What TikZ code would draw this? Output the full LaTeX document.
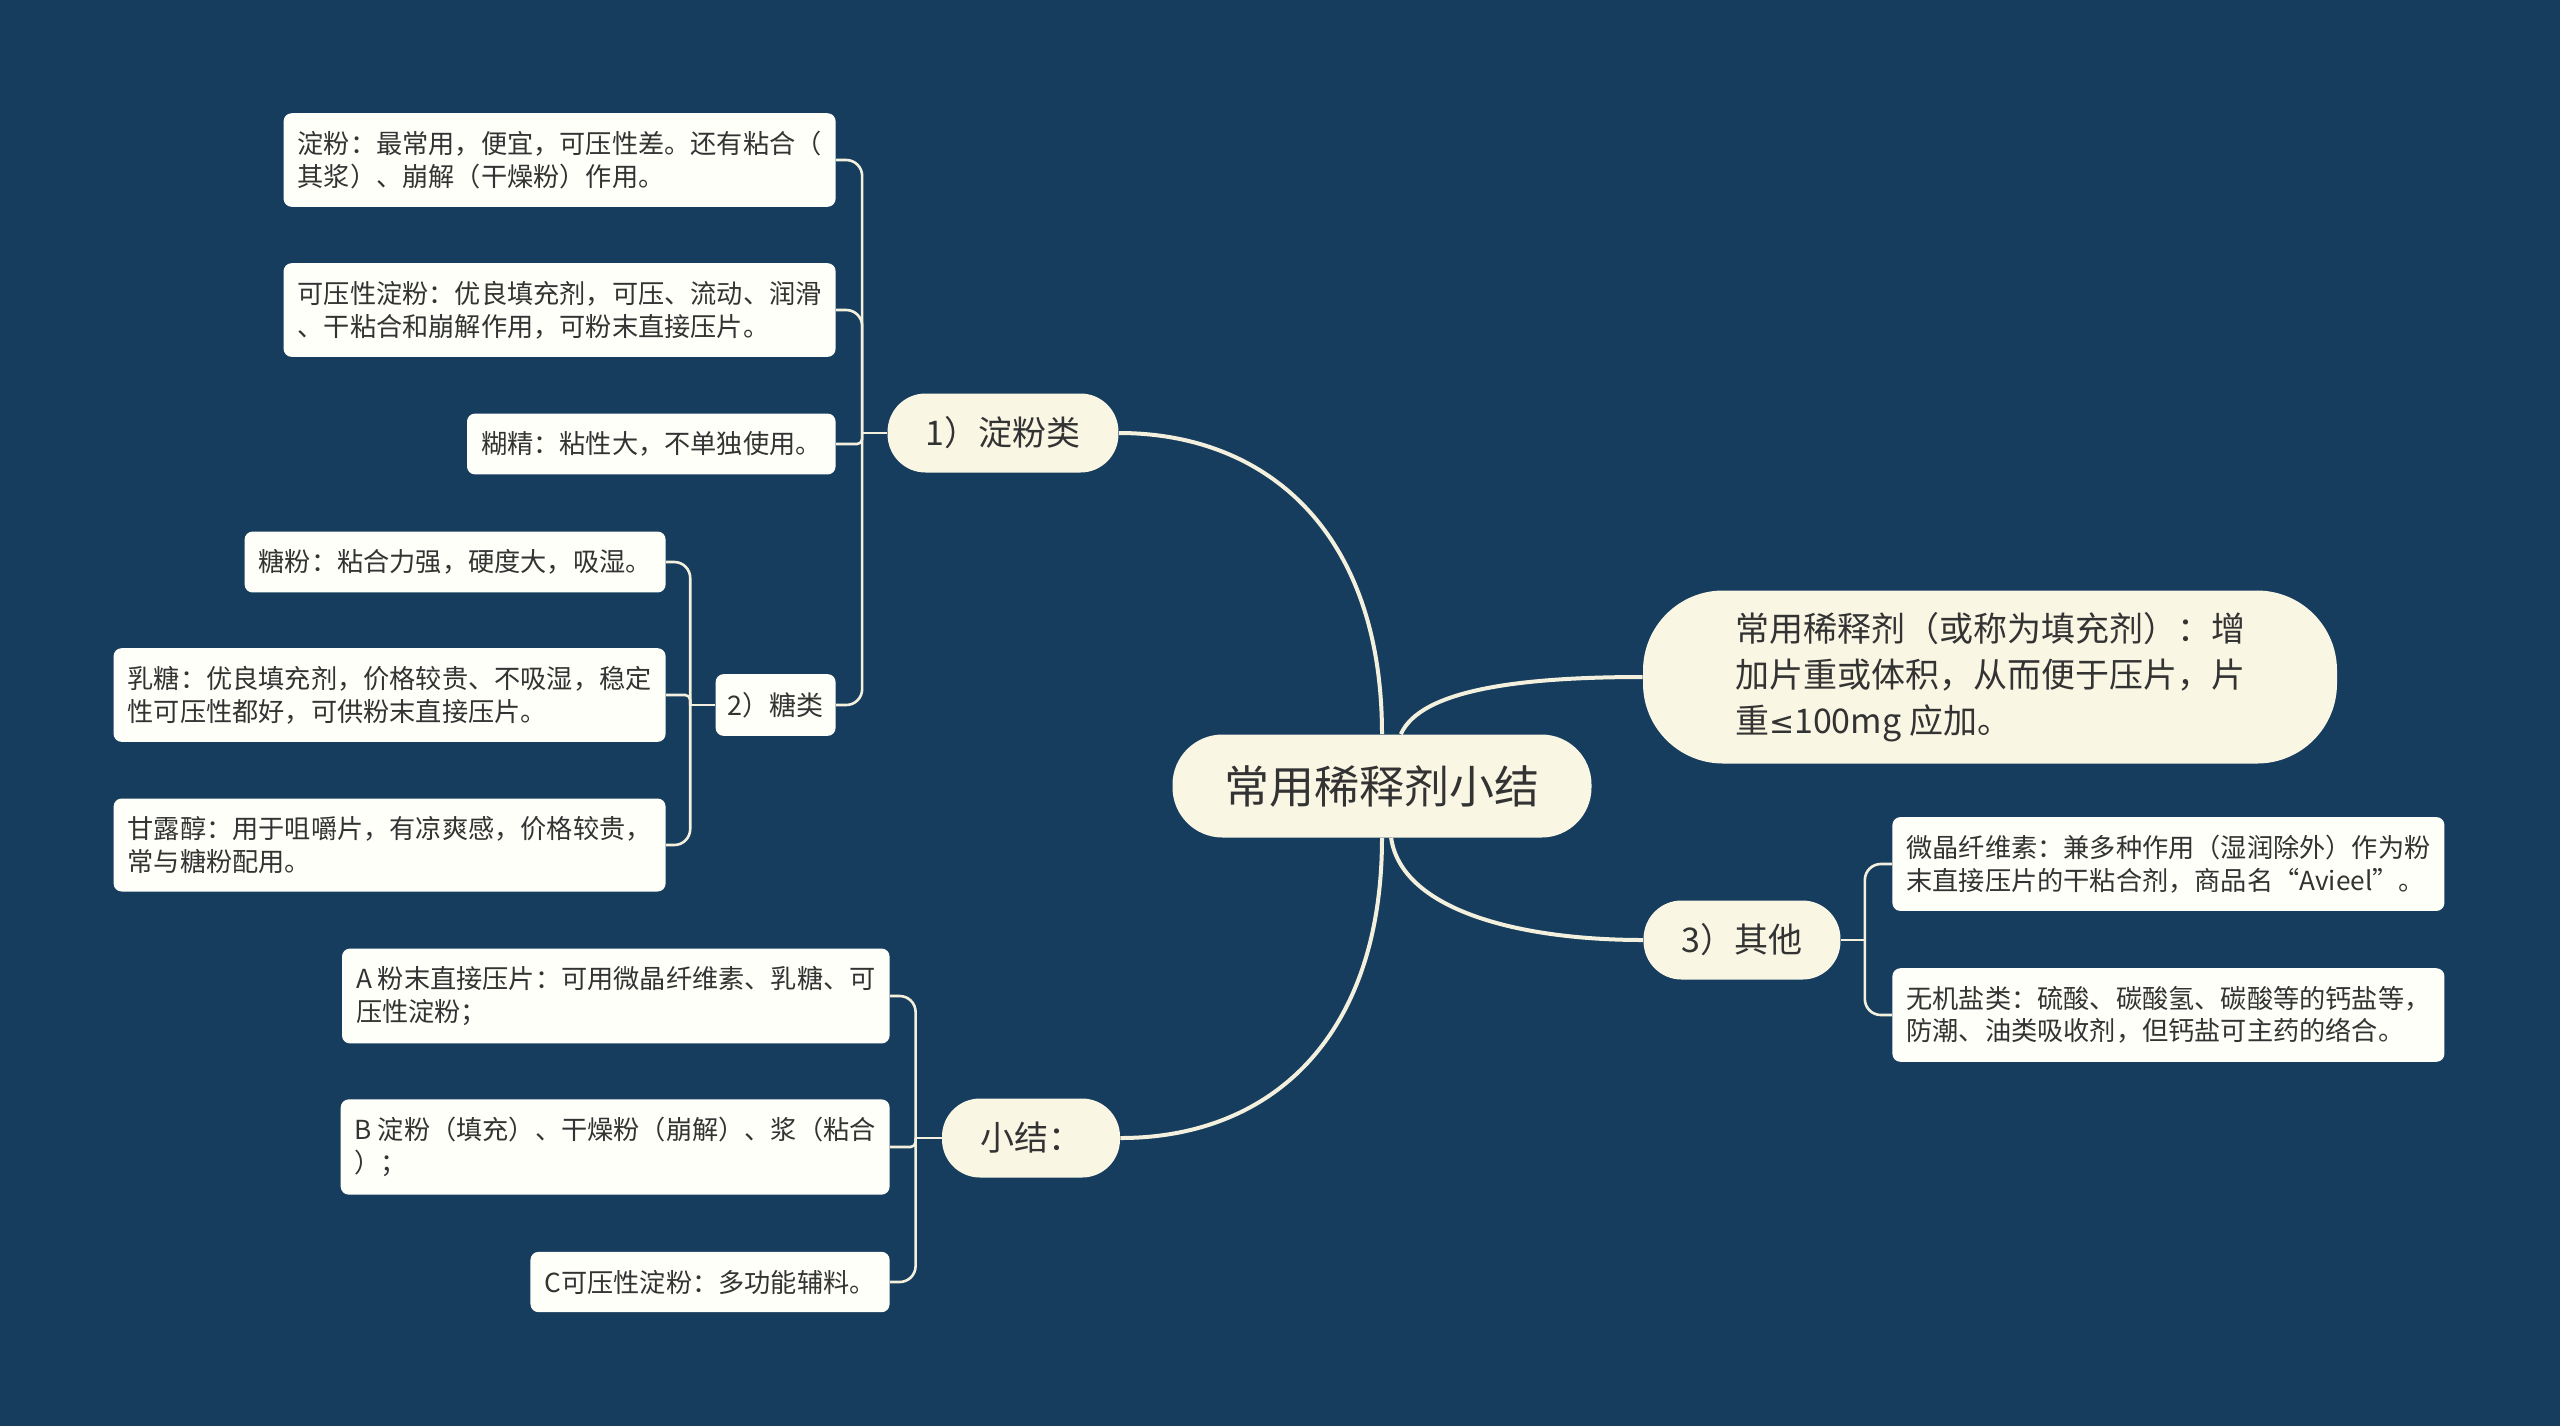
\documentclass[tikz,border=0pt]{standalone}
\usepackage{fontspec}
\setmainfont{Noto Sans CJK SC}
\newfontfamily\symfont{DejaVu Sans}
\usepackage{tikz}
\usetikzlibrary{positioning}
\definecolor{bgnavy}{HTML}{173D5E}
\definecolor{cream}{HTML}{FAF6E4}
\definecolor{leafwhite}{HTML}{FFFFFA}
\definecolor{inktext}{HTML}{333333}
\definecolor{wire}{HTML}{F4F0DE}

\begin{document}
\begin{tikzpicture}[x=0.5pt, y=-0.5pt,
  topic/.style={fill=cream, text=inktext, rounded corners=25pt, minimum height=51.5pt, inner xsep=26pt, font=\fontsize{22.5}{27}\selectfont},
  branch/.style={fill=cream, text=inktext, rounded corners=19pt, minimum height=39.5pt, inner xsep=19pt, font=\fontsize{17}{22}\selectfont},
  leafbox/.style={fill=leafwhite, text=inktext, rounded corners=4pt, inner xsep=7pt, inner ysep=9pt, minimum height=29pt, align=left, font=\fontsize{13.1}{16.3}\selectfont},
  mainlink/.style={draw=wire, line width=2pt},
  forklink/.style={draw=wire, line width=1.3pt, rounded corners=8pt},
]
\fill[bgnavy] (0,0) rectangle (2560,1426);

\node[topic] (sum) at (1382,786) {常用稀释剂小结};
\node[branch] (starch) at (1003,433) {1）淀粉类};
\node[branch] (recap) at (1031,1138) {小结：};
\node[branch] (other) at (1742,940) {3）其他};
\node[branch, align=left, rounded corners=40pt, inner xsep=46pt, inner ysep=11pt, font=\fontsize{17}{22.85}\selectfont] (filler) at (1990,677) {常用稀释剂（或称为填充剂）：增\\加片重或体积，从而便于压片，片\\重{\symfont\fontsize{15}{22.85}\selectfont ≤}100mg 应加。};

\node[leafbox, anchor=east] (starchA) at (836,160) {淀粉：最常用，便宜，可压性差。还有粘合（\\其浆）、崩解（干燥粉）作用。};
\node[leafbox, anchor=east] (starchB) at (836,310) {可压性淀粉：优良填充剂，可压、流动、润滑\\、干粘合和崩解作用，可粉末直接压片。};
\node[leafbox, anchor=east] (starchC) at (836,444) {糊精：粘性大，不单独使用。};
\node[leafbox, anchor=east, minimum height=30.5pt, inner xsep=6pt, font=\fontsize{13.5}{16}\selectfont] (sugar) at (836,705) {2）糖类};
\node[leafbox, anchor=east] (sugarA) at (666,562) {糖粉：粘合力强，硬度大，吸湿。};
\node[leafbox, anchor=east] (sugarB) at (666,695) {乳糖：优良填充剂，价格较贵、不吸湿，稳定\\性可压性都好，可供粉末直接压片。};
\node[leafbox, anchor=east] (sugarC) at (666,845) {甘露醇：用于咀嚼片，有凉爽感，价格较贵，\\常与糖粉配用。};
\node[leafbox, anchor=east] (recapA) at (890,996) {A 粉末直接压片：可用微晶纤维素、乳糖、可\\压性淀粉；};
\node[leafbox, anchor=east] (recapB) at (890,1147) {B 淀粉（填充）、干燥粉（崩解）、浆（粘合\\）；};
\node[leafbox, anchor=east] (recapC) at (890,1282) {C可压性淀粉：多功能辅料。};
\node[leafbox, anchor=west] (otherA) at (1892,864) {微晶纤维素：兼多种作用（湿润除外）作为粉\\末直接压片的干粘合剂，商品名“Avieel”。};
\node[leafbox, anchor=west] (otherB) at (1892,1015) {无机盐类：硫酸、碳酸氢、碳酸等的钙盐等，\\防潮、油类吸收剂，但钙盐可主药的络合。};

\draw[mainlink] (sum.north) .. controls +(0,-200) and +(150,0) .. (starch.east);
\draw[mainlink] (sum.south) .. controls +(0,200) and +(150,0) .. (recap.east);
\draw[mainlink] (sum.70) .. controls +(20,-45) and +(-120,0) .. (filler.west);
\draw[mainlink] (sum.-80) .. controls +(10,70) and +(-130,0) .. (other.west);

\draw[forklink] (starch.west) -- ++(-25,0) coordinate (starchJ);
\draw[forklink] (starchJ) |- (starchA.east);
\draw[forklink] (starchJ) |- (starchB.east);
\draw[forklink, rounded corners=2.5pt] (starchJ) |- (starchC.east);
\draw[forklink] (starchJ) |- (sugar.east);
\draw[forklink] (sugar.west) -- ++(-25,0) coordinate (sugarJ);
\draw[forklink] (sugarJ) |- (sugarA.east);
\draw[forklink, rounded corners=2.5pt] (sugarJ) |- (sugarB.east);
\draw[forklink] (sugarJ) |- (sugarC.east);
\draw[forklink] (recap.west) -- ++(-26,0) coordinate (recapJ);
\draw[forklink] (recapJ) |- (recapA.east);
\draw[forklink, rounded corners=2.5pt] (recapJ) |- (recapB.east);
\draw[forklink] (recapJ) |- (recapC.east);
\draw[forklink] (other.east) -- ++(24,0) coordinate (otherJ);
\draw[forklink] (otherJ) |- (otherA.west);
\draw[forklink] (otherJ) |- (otherB.west);
\end{tikzpicture}
\end{document}
